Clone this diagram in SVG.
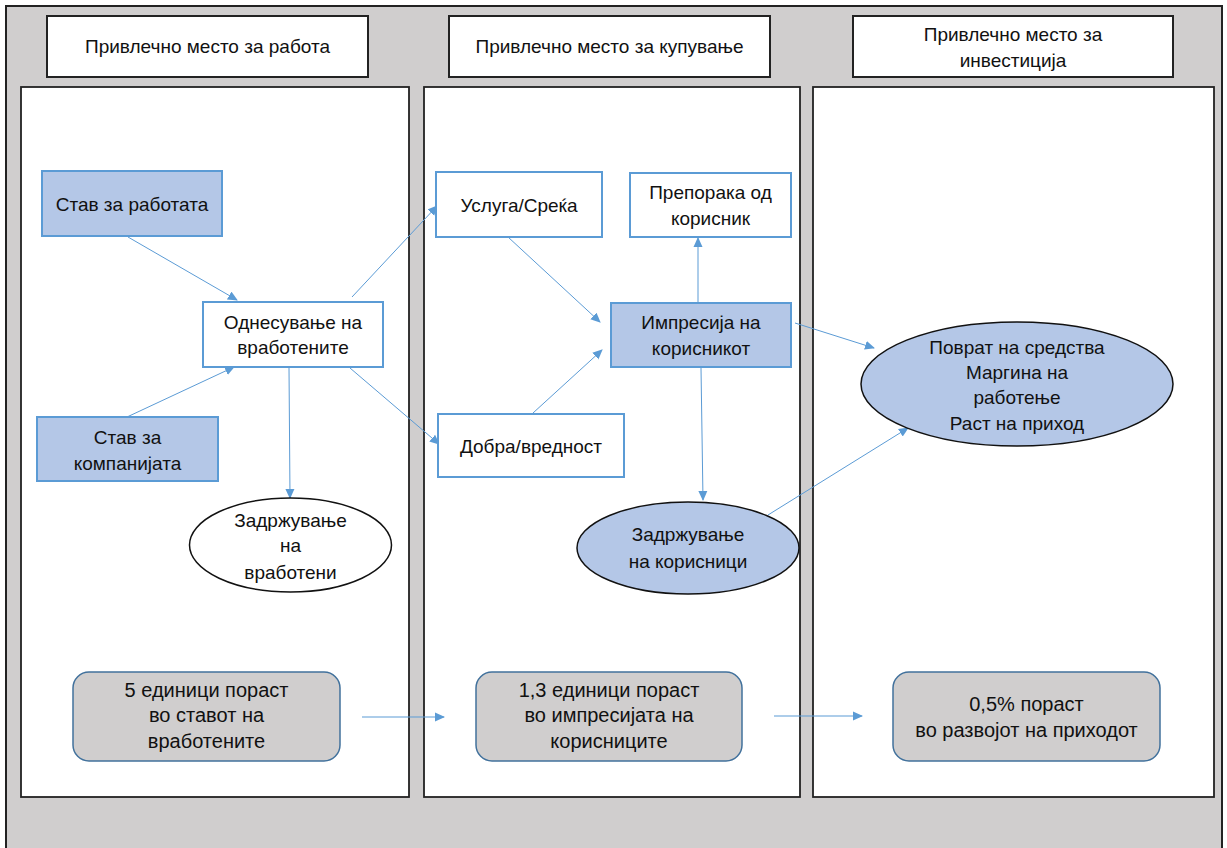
<svg xmlns="http://www.w3.org/2000/svg" width="1227" height="848" viewBox="0 0 1227 848">
  <defs>
    <marker id="arr" markerWidth="10" markerHeight="10" refX="9" refY="5" orient="auto" markerUnits="userSpaceOnUse">
      <path d="M0,0.5 L10,5 L0,9.5 Z" fill="#5b9bd5"/>
    </marker>
    <style>
      text { font-family: "Liberation Sans", "Noto Sans", sans-serif; font-size: 19px; fill: #111; text-anchor: middle; }
      .big { font-size: 20px; }
      .frame { fill: #d0cece; stroke: #222; stroke-width: 2; }
      .head { fill: #fff; stroke: #222; stroke-width: 2; }
      .panel { fill: #fff; stroke: #222; stroke-width: 1.8; }
      .blue { fill: #b4c7e7; stroke: #5b9bd5; stroke-width: 2; }
      .white { fill: #fff; stroke: #5b9bd5; stroke-width: 2; }
      .oval { stroke: #111; stroke-width: 1.5; }
      .grey { fill: #d0cece; stroke: #41719c; stroke-width: 1.5; }
      .link { stroke: #5b9bd5; stroke-width: 1; fill: none; marker-end: url(#arr); }
    </style>
  </defs>

  <!-- background frame and the three columns -->
  <rect class="frame" x="6" y="6" width="1216" height="850"/>
  <g id="columns">
    <rect class="head" x="47" y="16" width="321" height="61"/>
    <text x="207.5" y="53">Привлечно место за работа</text>
    <rect class="head" x="449" y="16" width="321" height="61"/>
    <text x="609.5" y="53">Привлечно место за купување</text>
    <rect class="head" x="853" y="16" width="320" height="61"/>
    <text x="1013" y="41">Привлечно место за</text>
    <text x="1013" y="67">инвестиција</text>
    <rect class="panel" x="21" y="87" width="388" height="710"/>
    <rect class="panel" x="424" y="87" width="376" height="710"/>
    <rect class="panel" x="813" y="87" width="401" height="710"/>
  </g>

  <!-- connectors -->
  <g id="connectors">
    <line class="link" x1="128" y1="237" x2="237" y2="300"/>
    <line class="link" x1="127" y1="417" x2="234" y2="367"/>
    <line class="link" x1="352" y1="297" x2="437" y2="206"/>
    <line class="link" x1="350" y1="368" x2="439" y2="444"/>
    <line class="link" x1="289" y1="368" x2="290" y2="498"/>
    <line class="link" x1="508" y1="237" x2="600" y2="322"/>
    <line class="link" x1="533" y1="413" x2="602" y2="350"/>
    <line class="link" x1="698" y1="303" x2="698" y2="238"/>
    <line class="link" x1="701" y1="368" x2="703" y2="500"/>
    <line class="link" x1="795" y1="323" x2="874" y2="348"/>
    <line class="link" x1="768" y1="515" x2="908" y2="428"/>
    <line class="link" x1="362" y1="717" x2="444" y2="717"/>
    <line class="link" x1="774" y1="716" x2="862" y2="716"/>
  </g>

  <!-- employee column -->
  <g id="stav-rabota">
    <rect class="blue" x="42" y="171" width="180" height="65"/>
    <text x="132" y="211">Став за работата</text>
  </g>
  <g id="odnesuvanje">
    <rect class="white" x="203" y="302" width="180" height="65"/>
    <text x="293" y="329">Однесување на</text>
    <text x="293" y="354">вработените</text>
  </g>
  <g id="stav-kompanija">
    <rect class="blue" x="37" y="417" width="181" height="64"/>
    <text x="127.5" y="444">Став за</text>
    <text x="127.5" y="470">компанијата</text>
  </g>
  <g id="zadrzuvanje-vraboteni">
    <ellipse class="oval" cx="290.5" cy="545" rx="101" ry="47" fill="#fff"/>
    <text x="290.5" y="527">Задржување</text>
    <text x="290.5" y="552">на</text>
    <text x="290.5" y="579">вработени</text>
  </g>

  <!-- customer column -->
  <g id="usluga">
    <rect class="white" x="436" y="172" width="166" height="65"/>
    <text x="519" y="212">Услуга/Среќа</text>
  </g>
  <g id="preporaka">
    <rect class="white" x="630" y="173" width="161" height="64"/>
    <text x="710.5" y="199">Препорака од</text>
    <text x="710.5" y="225">корисник</text>
  </g>
  <g id="impresija">
    <rect class="blue" x="611" y="303" width="180" height="64"/>
    <text x="701" y="329">Импресија на</text>
    <text x="701" y="355">корисникот</text>
  </g>
  <g id="dobra">
    <rect class="white" x="438" y="414" width="186" height="63"/>
    <text x="531" y="453">Добра/вредност</text>
  </g>
  <g id="zadrzuvanje-korisnici">
    <ellipse class="oval" cx="688" cy="548" rx="111" ry="46" fill="#b4c7e7"/>
    <text x="688" y="541">Задржување</text>
    <text x="688" y="568">на корисници</text>
  </g>

  <!-- investment column -->
  <g id="povrat">
    <ellipse class="oval" cx="1017" cy="384" rx="156" ry="62" fill="#b4c7e7"/>
    <text x="1017" y="354">Поврат на средства</text>
    <text x="1017" y="379">Маргина на</text>
    <text x="1017" y="404">работење</text>
    <text x="1017" y="430">Раст на приход</text>
  </g>

  <!-- growth figures -->
  <g id="rast-stav">
    <rect class="grey" x="73" y="672" width="267" height="89" rx="16"/>
    <text class="big" x="206.5" y="697">5 единици пораст</text>
    <text class="big" x="206.5" y="722">во ставот на</text>
    <text class="big" x="206.5" y="748">вработените</text>
  </g>
  <g id="rast-impresija">
    <rect class="grey" x="476" y="672" width="266" height="89" rx="16"/>
    <text class="big" x="609" y="697">1,3 единици пораст</text>
    <text class="big" x="609" y="722">во импресијата на</text>
    <text class="big" x="609" y="748">корисниците</text>
  </g>
  <g id="rast-prihod">
    <rect class="grey" x="893" y="672" width="267" height="89" rx="16"/>
    <text class="big" x="1026.5" y="711">0,5% пораст</text>
    <text class="big" x="1026.5" y="737">во развојот на приходот</text>
  </g>
</svg>
